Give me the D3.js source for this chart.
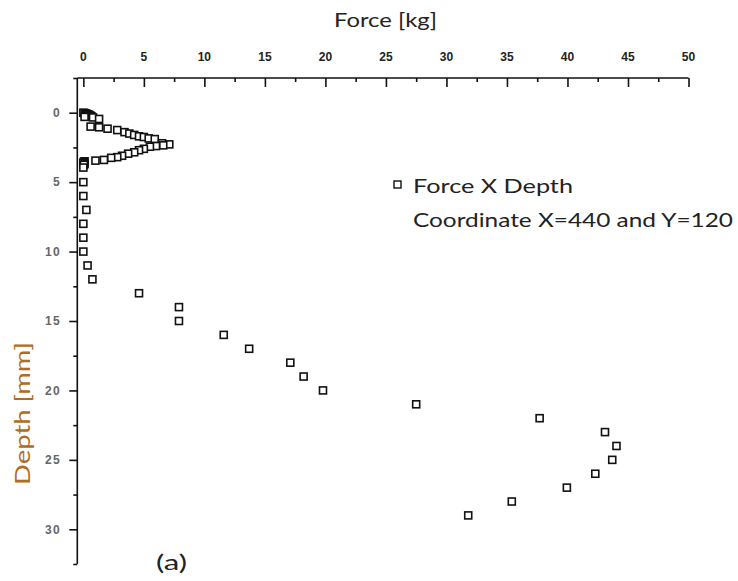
<!DOCTYPE html>
<html>
<head>
<meta charset="utf-8">
<script src="https://cdn.jsdelivr.net/npm/d3@7"></script>
<style>
    body { margin: 0; background: #fff; }
    .tick-top { font-family: 'Liberation Sans Narrow', 'Arial Narrow', sans-serif; font-size: 12px; font-weight: bold; fill: #222; }
    .tick-left { font-family: 'Liberation Sans Narrow', 'Arial Narrow', sans-serif; font-size: 12px; font-weight: bold; fill: #666; letter-spacing: 1.5px; }
    .title { font-family: Lato, 'Open Sans', sans-serif; font-size: 20px; fill: #222; }
</style>
</head>
<body>
<div id="chart"></div>
<script>
const WIDTH = 738;
const HEIGHT = 581;
const MARKER = 7;

// Force [kg] against depth [mm]
const force = [
    0, 0.1, 0.2, 0.3, 0.4, 0.5, 0.6, 0.7, 0.8, 0.1, 1.3,
    0.6, 1.3, 2.0, 2.8, 3.4, 3.8, 4.2, 4.6, 5.0, 5.4, 5.9, 6.5, 7.1,
    6.6, 6.0, 5.5, 5.0, 4.6, 4.2, 3.7, 3.2, 2.8, 2.3, 1.7, 1.0,
    0.1, 0.05, 0, 0.1, 0.05, 0,
    0, 0, 0.25, 0, 0, 0, 0.35, 0.75,
    4.6, 7.9, 7.9, 11.6, 13.7, 17.1, 18.2, 19.8,
    27.5, 37.7, 43.1, 44.05, 43.7, 42.3, 39.95, 35.4, 31.8
];
const depth = [
    0, 0.03, 0.05, 0.09, 0.12, 0.17, 0.22, 0.28, 0.34, 0.3, 0.45,
    1.0, 1.05, 1.15, 1.25, 1.4, 1.5, 1.6, 1.7, 1.75, 1.85, 1.9, 2.2, 2.28,
    2.35, 2.4, 2.45, 2.6, 2.7, 2.85, 2.95, 3.1, 3.2, 3.25, 3.4, 3.45,
    3.5, 3.55, 3.6, 3.68, 3.75, 3.95,
    5, 6, 7, 8, 9, 10, 11, 12,
    13, 14, 15, 16, 17, 18, 19, 20,
    21, 22, 23, 24, 25, 26, 27, 28, 29
];
const xTicks = [0, 5, 10, 15, 20, 25, 30, 35, 40, 45, 50];
const yTicks = [0, 5, 10, 15, 20, 25, 30];
const legendLabel = 'Force X Depth';
const legendNote = 'Coordinate X=440 and Y=120';

const svg = d3.select('#chart')
    .append('svg')
    .attr('width', WIDTH)
    .attr('height', HEIGHT);

const x = d3.scaleLinear().domain([-0.5, 50]).range([77.3, 688.5]);
const y = d3.scaleLinear().domain([-2.5, 32.5]).range([78, 564]);

// Top axis, ticks pointing inward
const xMinor = d3.range(2.5, 50, 5);
const topAxis = svg.append('g').attr('transform', `translate(0,${y(-2.5)})`);
topAxis.append('g')
    .call(d3.axisBottom(x).tickValues(xMinor).tickSize(4).tickFormat(''))
    .call(g => g.select('.domain').remove());
topAxis.append('g')
    .call(d3.axisBottom(x).tickValues(xTicks).tickSize(9).tickSizeOuter(0).tickFormat(''))
    .call(g => g.select('.domain').attr('d', `M${x(-0.5)},0H${x(50)}`));
topAxis.selectAll('line, path').attr('stroke', '#111').attr('stroke-width', 1.6);
topAxis.selectAll('text.tick-top')
    .data(xTicks)
    .enter()
    .append('text')
    .attr('class', 'tick-top')
    .attr('x', d => x(d))
    .attr('y', -17)
    .attr('text-anchor', 'middle')
    .text(d => d);

// Left axis, ticks pointing outward
const yMinor = d3.range(-2.5, 33, 5);
const leftAxis = svg.append('g').attr('transform', `translate(${x(-0.5)},0)`);
leftAxis.append('g')
    .call(d3.axisLeft(y).tickValues(yMinor).tickSize(4).tickFormat(''))
    .call(g => g.select('.domain').remove());
leftAxis.append('g')
    .call(d3.axisLeft(y).tickValues(yTicks).tickSize(8).tickSizeOuter(0).tickFormat(''))
    .call(g => g.select('.domain').attr('d', `M0,${y(-2.5)}V${y(32.5)}`));
leftAxis.selectAll('line, path').attr('stroke', '#111').attr('stroke-width', 1.6);
leftAxis.selectAll('text.tick-left')
    .data(yTicks)
    .enter()
    .append('text')
    .attr('class', 'tick-left')
    .attr('x', -16)
    .attr('y', d => y(d))
    .attr('dy', '0.36em')
    .attr('text-anchor', 'end')
    .text(d => d);

// Axis titles (the source picture is stretched, so lengths are pinned)
svg.append('text')
    .attr('class', 'title')
    .attr('x', 334)
    .attr('y', 27)
    .attr('textLength', 103)
    .attr('lengthAdjust', 'spacingAndGlyphs')
    .text('Force [kg]');

svg.append('text')
    .attr('class', 'title')
    .attr('transform', 'translate(30,485) rotate(-90)')
    .attr('textLength', 143)
    .attr('lengthAdjust', 'spacingAndGlyphs')
    .style('font-size', '21px')
    .style('fill', '#b06c20')
    .text('Depth [mm]');

svg.append('text')
    .attr('class', 'title')
    .attr('x', 156)
    .attr('y', 570)
    .attr('textLength', 31)
    .attr('lengthAdjust', 'spacingAndGlyphs')
    .style('font-size', '21px')
    .text('(a)');

// Points
const points = force.map((f, i) => ({ f: f, d: depth[i] }));
svg.append('g')
    .selectAll('rect')
    .data(points)
    .enter()
    .append('rect')
    .attr('x', p => x(p.f) - MARKER / 2)
    .attr('y', p => y(p.d) - MARKER / 2)
    .attr('width', MARKER)
    .attr('height', MARKER)
    .style('fill', '#fff')
    .style('stroke', '#111')
    .style('stroke-width', 1.6);

// Legend
svg.append('rect')
    .attr('x', 394)
    .attr('y', 181)
    .attr('width', MARKER)
    .attr('height', MARKER)
    .style('fill', '#fff')
    .style('stroke', '#111')
    .style('stroke-width', 1.4);

svg.append('text')
    .attr('class', 'title')
    .attr('x', 413)
    .attr('y', 193)
    .attr('textLength', 160)
    .attr('lengthAdjust', 'spacingAndGlyphs')
    .text(legendLabel);

svg.append('text')
    .attr('class', 'title')
    .attr('x', 413)
    .attr('y', 227)
    .attr('textLength', 320)
    .attr('lengthAdjust', 'spacingAndGlyphs')
    .text(legendNote);
</script>
</body>
</html>
